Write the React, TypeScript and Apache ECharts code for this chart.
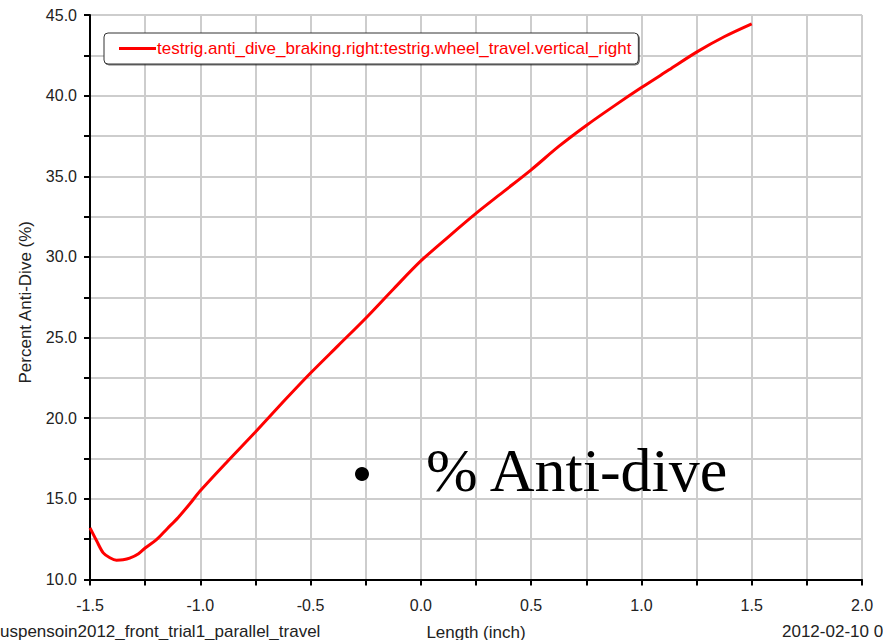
import React, { useEffect, useRef } from "react";
import * as echarts from "echarts";

const seriesName = "testrig.anti_dive_braking.right:testrig.wheel_travel.vertical_right";
const xValues = [-1.5, -1.47, -1.44, -1.41, -1.38, -1.35, -1.32, -1.28, -1.25, -1.2, -1.15, -1.1, -1.05, -1.0, -0.875, -0.75, -0.625, -0.5, -0.375, -0.25, -0.125, 0, 0.125, 0.25, 0.375, 0.5, 0.625, 0.75, 0.875, 1.0, 1.125, 1.25, 1.375, 1.5];
const antiDive = [13.2, 12.4, 11.65, 11.35, 11.2, 11.22, 11.32, 11.6, 11.95, 12.45, 13.15, 13.85, 14.65, 15.5, 17.35, 19.15, 21.0, 22.8, 24.5, 26.2, 28.0, 29.75, 31.25, 32.7, 34.05, 35.4, 36.85, 38.15, 39.35, 40.5, 41.6, 42.7, 43.65, 44.45];
const xTitle = "Length (inch)";
const yTitle = "Percent Anti-Dive (%)";
const footerLeft = "uspensoin2012_front_trial1_parallel_travel";
const footerRight = "2012-02-10 0";
const annotation = "% Anti-dive";

export default function App() {
  const ref = useRef<HTMLDivElement>(null);
  useEffect(() => {
    if (!ref.current) return;
    const chart = echarts.init(ref.current, null, { renderer: "svg" });
    const gridColor = "#cdcdcd";
    const sans = "Liberation Sans, Arial, sans-serif";
    const labelFont = { fontFamily: sans, fontSize: 16, color: "#222" };
    chart.setOption({
      animation: false,
      backgroundColor: "#ffffff",
      grid: {
        left: 90,
        right: 21,
        top: 15,
        bottom: 60.5,
        show: true,
        borderColor: "#444",
        borderWidth: 1,
        containLabel: false,
        outerBoundsMode: "none",
      },
      legend: {
        left: 104,
        top: 33,
        orient: "horizontal",
        padding: [7, 7, 7, 15],
        backgroundColor: "#fff",
        borderColor: "#333",
        borderWidth: 1,
        borderRadius: 4,
        shadowColor: "rgba(0,0,0,0.55)",
        shadowOffsetX: 1,
        shadowOffsetY: 1,
        shadowBlur: 1,
        itemWidth: 37,
        itemHeight: 3,
        textStyle: { color: "#ff0000", fontFamily: sans, fontSize: 17, padding: [0, 0, 0, -4] },
        data: [{ name: seriesName, icon: "rect" }],
      },
      xAxis: {
        type: "value",
        min: -1.5,
        max: 2.0,
        interval: 0.5,
        name: xTitle,
        nameLocation: "middle",
        nameGap: 44,
        nameTextStyle: { ...labelFont, fontSize: 17 },
        axisLine: { show: true, onZero: false, lineStyle: { color: "#000", width: 2 } },
        axisTick: { show: true, length: 6, inside: false, lineStyle: { color: "#000", width: 2 } },
        minorTick: { show: true, splitNumber: 2, length: 6, lineStyle: { color: "#000", width: 2 } },
        splitLine: { show: true, lineStyle: { color: gridColor, width: 2 } },
        minorSplitLine: { show: true, lineStyle: { color: gridColor, width: 2 } },
        axisLabel: { ...labelFont, margin: 18, formatter: (v: number) => v.toFixed(1) },
      },
      yAxis: {
        type: "value",
        min: 10,
        max: 45,
        interval: 5,
        name: yTitle,
        nameLocation: "middle",
        nameGap: 56,
        nameRotate: 90,
        nameTextStyle: { ...labelFont, fontSize: 17, padding: [0, 10, 0, 0] },
        axisLine: { show: true, onZero: false, lineStyle: { color: "#000", width: 2 } },
        axisTick: { show: true, length: 6, inside: false, lineStyle: { color: "#000", width: 2 } },
        minorTick: { show: true, splitNumber: 2, length: 6, lineStyle: { color: "#000", width: 2 } },
        splitLine: { show: true, lineStyle: { color: gridColor, width: 2 } },
        minorSplitLine: { show: true, lineStyle: { color: gridColor, width: 2 } },
        axisLabel: { ...labelFont, margin: 13, formatter: (v: number) => v.toFixed(1) },
      },
      series: [
        {
          name: seriesName,
          type: "line",
          symbol: "none",
          smooth: 0.3,
          data: xValues.map((x, i) => [x, antiDive[i]]),
          lineStyle: { color: "#ff0000", width: 3 },
          itemStyle: { color: "#ff0000" },
          z: 5,
        },
      ],
      graphic: [
        {
          type: "text",
          left: 0,
          top: 623,
          style: { text: footerLeft, fontFamily: sans, fontSize: 17, fill: "#222" },
        },
        {
          type: "text",
          left: 782,
          top: 623,
          style: { text: footerRight, fontFamily: sans, fontSize: 17, fill: "#222" },
        },
        {
          type: "circle",
          shape: { cx: 362, cy: 474, r: 7 },
          style: { fill: "#000" },
          z: 10,
        },
        {
          type: "text",
          x: 426,
          y: 501,
          style: {
            text: annotation,
            fontFamily: "Liberation Serif, Times New Roman, serif",
            fontSize: 62,
            fill: "#000",
            verticalAlign: "bottom",
          },
          z: 10,
        },
      ],
    });
    return () => chart.dispose();
  }, []);
  return <div ref={ref} style={{ position: "fixed", left: 0, top: 0, width: 883, height: 640 }} />;
}
